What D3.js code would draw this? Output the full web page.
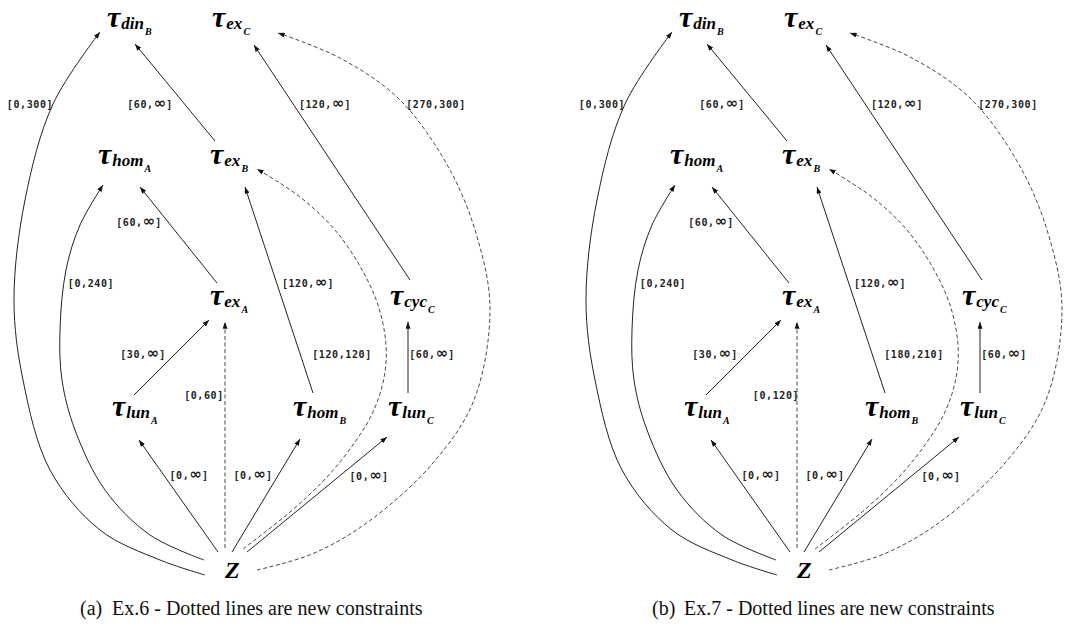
<!DOCTYPE html>
<html><head><meta charset="utf-8">
<script src="https://cdn.jsdelivr.net/npm/d3@7"></script>
<style>
body{margin:0;background:#fff;}
svg{display:block;}
</style></head>
<body><svg id="c" width="1072" height="625"></svg>
<script>
// ---- data ----
const panelTags = ["(a)", "(b)"];
const panelTitles = ["Ex.6 - Dotted lines are new constraints", "Ex.7 - Dotted lines are new constraints"];
const panelOffsets = [0, 572];

const nodeIds     = ["dinB","exC","homA","exB","exA","cycC","lunA","homB","lunC","Z"];
const nodeSub     = ["din","ex","hom","ex","ex","cyc","lun","hom","lun",""];
const nodeSubSub  = ["B","C","A","B","A","C","A","B","C",""];
// layout units (label anchor: left of tau, baseline)
const nodeAnchor  = [[107,27],[212,27],[98,164],[210,164],[210,305],[390,305],[112,416],[293,416],[388,416],[225,578]];

const edgeSource = ["Z","exB","cycC","Z","exA","Z","homB","lunA","Z","lunC","Z","Z","Z","Z"];
const edgeTarget = ["dinB","dinB","exC","exC","homA","homA","exB","exA","exB","cycC","exA","lunA","homB","lunC"];
const edgeNew    = [false,false,false,true,false,false,false,false,true,false,true,false,false,false];
const labelsEx6  = ["[0,300]","[60,∞]","[120,∞]","[270,300]","[60,∞]","[0,240]","[120,∞]","[30,∞]","[120,120]","[60,∞]","[0,60]","[0,∞]","[0,∞]","[0,∞]"];
const labelsEx7  = ["[0,300]","[60,∞]","[120,∞]","[270,300]","[60,∞]","[0,240]","[120,∞]","[30,∞]","[180,210]","[60,∞]","[0,120]","[0,∞]","[0,∞]","[0,∞]"];
const labelPos   = [[30,104],[150,104],[325,104],[436,104],[139,222],[91,283],[308,283],[143,354],[342,354],[432,354],[204,395],[189,475],[253,475],[369,476]];
// edge routes in layout units (start ... arrow tip)
const edgeRoute = [
  [[205,575],[160,560],[100,530],[50,470],[23,380],[14,300],[25,200],[53,104],[100,32]],
  [[215,141],[135,44]],
  [[410,280],[254,45]],
  [[257,570],[312,554],[368,522],[433,463],[474,400],[490,310],[478,240],[450,170],[400,100],[340,58],[278,33]],
  [[217,283],[140,187]],
  [[204,560],[150,535],[105,490],[75,430],[62,380],[60,330],[66,270],[80,225],[103,185]],
  [[313,393],[245,187]],
  [[134,395],[209,320]],
  [[243,549],[290,512],[327,477],[355,442],[373,412],[384,378],[386,345],[378,305],[361,268],[335,230],[300,197],[257,169]],
  [[408,393],[408,322]],
  [[225,548],[225,322]],
  [[218,552],[139,440]],
  [[232,552],[300,439]],
  [[247,552],[387,437]]
];

// ---- drawing ----
const svg = d3.select("#c");
const defs = svg.append("defs");
defs.append("marker").attr("id","arr").attr("viewBox","0 -3 8 6")
  .attr("refX",8).attr("refY",0).attr("markerWidth",7).attr("markerHeight",5)
  .attr("markerUnits","userSpaceOnUse").attr("orient","auto")
  .append("path").attr("d","M0,-3L8,0L0,3Z").attr("fill","#111");

const yS = d3.scaleLinear().domain([0,625]).range([0,625]);
const labelSets = [labelsEx6, labelsEx7];

panelOffsets.forEach((off, pi) => {
  const xS = d3.scaleLinear().domain([0,536]).range([off, off+536]);
  const g = svg.append("g");
  const line = d3.line().x(p => xS(p[0])).y(p => yS(p[1])).curve(d3.curveCatmullRom.alpha(0.5));

  g.selectAll("path.edge").data(edgeRoute).join("path")
    .attr("class","edge")
    .attr("d", d => line(d))
    .attr("fill","none")
    .attr("stroke", (d,i) => edgeNew[i] ? "#333" : "#222")
    .attr("stroke-width", (d,i) => edgeNew[i] ? 0.9 : 1)
    .attr("stroke-dasharray", (d,i) => edgeNew[i] ? "4,2.5" : null)
    .attr("marker-end","url(#arr)");

  // edge labels
  const lt = g.selectAll("text.lab").data(labelSets[pi]).join("text")
    .attr("class","lab")
    .attr("x", (d,i) => xS(labelPos[i][0]))
    .attr("y", (d,i) => yS(labelPos[i][1]) + 3.5)
    .attr("text-anchor","middle")
    .attr("font-family","DejaVu Sans Mono, monospace")
    .attr("font-weight","bold")
    .attr("font-size","10px")
    .attr("letter-spacing","0.6px")
    .attr("fill","#222");
  lt.each(function(d){
    const t = d3.select(this);
    const parts = d.split("∞");
    t.append("tspan").text(parts[0]);
    if (parts.length > 1) {
      t.append("tspan").attr("font-family","DejaVu Sans").attr("font-size","15px").attr("font-weight","bold").attr("letter-spacing","0").text("∞");
      t.append("tspan").text(parts[1]);
    }
  });

  // node labels
  const nt = g.selectAll("text.node").data(nodeIds).join("text")
    .attr("class","node")
    .attr("x", (d,i) => xS(nodeAnchor[i][0]))
    .attr("y", (d,i) => yS(nodeAnchor[i][1]))
    .attr("font-family","Liberation Serif, serif")
    .attr("font-style","italic")
    .attr("font-weight","bold")
    .attr("fill","#000");
  nt.each(function(d,i){
    const t = d3.select(this);
    if (d === "Z") { t.append("tspan").attr("font-size","24px").text("Z"); return; }
    t.append("tspan").attr("font-size","30px").text("τ");
    t.append("tspan").attr("font-size","17px").attr("dy",2).attr("dx",1).text(nodeSub[i]);
    t.append("tspan").attr("font-size","10px").attr("dy",6).attr("dx",1).text(nodeSubSub[i]);
  });

  // caption
  g.append("text").attr("x", xS(80)).attr("y", yS(615))
    .attr("font-family","Liberation Serif, serif").attr("font-size","20px").attr("fill","#111")
    .text(panelTags[pi]);
  g.append("text").attr("x", xS(112)).attr("y", yS(615))
    .attr("font-family","Liberation Serif, serif").attr("font-size","20px").attr("fill","#111")
    .text(panelTitles[pi]);
});
</script></body></html>
